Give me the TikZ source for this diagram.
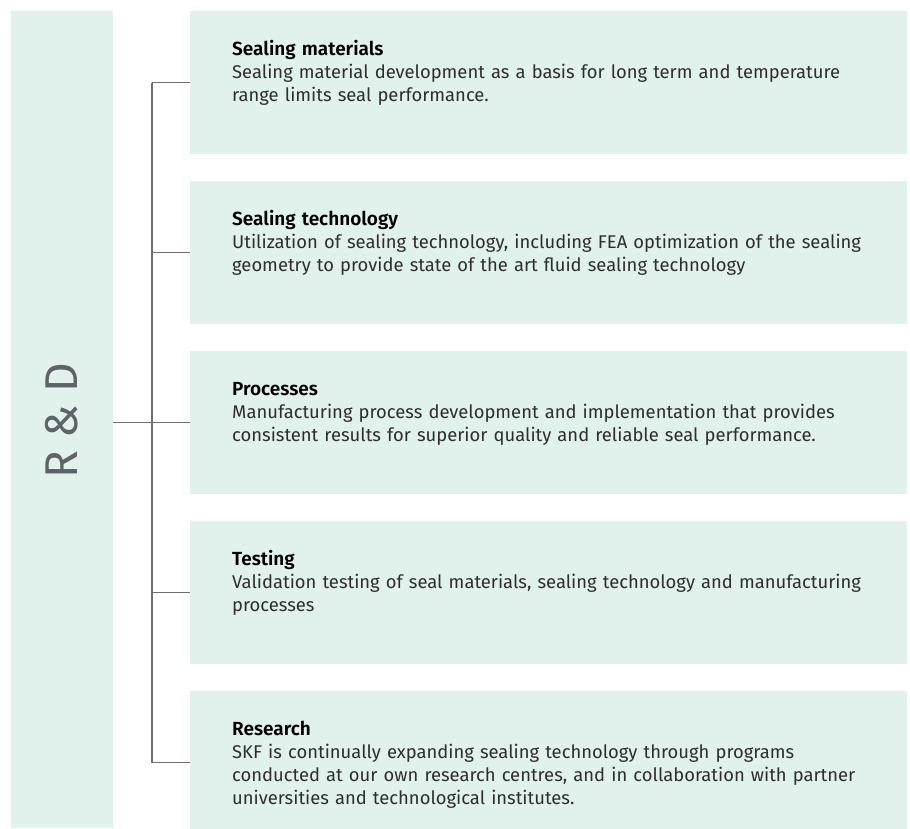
\documentclass[tikz,border=0pt]{standalone}
\usepackage{fontspec}
\setmainfont{Fira Sans}[BoldFont={Fira Sans SemiBold}]
\usetikzlibrary{calc}
\definecolor{mint}{HTML}{E1F1EC}
\definecolor{linegray}{HTML}{6E6E6E}
\definecolor{rdgray}{HTML}{5F6368}
\definecolor{bodytext}{HTML}{2E2E2E}
\tikzstyle{panel}=[fill=mint,minimum width=717pt,minimum height=143pt,inner sep=0pt,anchor=north west]
\tikzstyle{blurb}=[anchor=base west,text width=680pt,align=left,inner sep=0pt,font=\fontsize{18.4}{23}\selectfont,text=bodytext]
\tikzstyle{link}=[draw=linegray,line width=1.2pt]
\newcommand{\heading}[1]{\textcolor{black}{\fontsize{19}{23}\selectfont\textbf{#1}}}

\begin{document}
\begin{tikzpicture}[x=1pt,y=-1pt]
    \useasboundingbox (0,0) rectangle (910,828);
    \clip (0,0) rectangle (910,828);
    \node[fill=mint,minimum width=102pt,minimum height=817pt,inner sep=0pt,anchor=north west] (rd) at (11,11) {};
    \node[rotate=90,text=rdgray,font=\fontsize{46}{46}\selectfont] (rdlabel) at (62,421) {R \& D};

    \node[panel] (p1) at (190,11)  {};
    \node[panel] (p2) at (190,181) {};
    \node[panel] (p3) at (190,351) {};
    \node[panel] (p4) at (190,521) {};
    \node[panel] (p5) at (190,691) {};

    \node[blurb] (t1) at ($(p1.north west)+(42,44)$) {\heading{Sealing materials}\\
        Sealing material development as a basis for long term and temperature\\
        range limits seal performance.};
    \node[blurb] (t2) at ($(p2.north west)+(42,44)$) {\heading{Sealing technology}\\
        Utilization of sealing technology, including FEA optimization of the sealing\\
        geometry to provide state of the art fluid sealing technology};
    \node[blurb] (t3) at ($(p3.north west)+(42,44)$) {\heading{Processes}\\
        Manufacturing process development and implementation that provides\\
        consistent results for superior quality and reliable seal performance.};
    \node[blurb] (t4) at ($(p4.north west)+(42,44)$) {\heading{Testing}\\
        Validation testing of seal materials, sealing technology and manufacturing\\
        processes};
    \node[blurb] (t5) at ($(p5.north west)+(42,44)$) {\heading{Research}\\
        SKF is continually expanding sealing technology through programs\\
        conducted at our own research centres, and in collaboration with partner\\
        universities and technological institutes.};

    \foreach \i in {1,...,5}
    \coordinate (s\i) at ($(p\i.west)+(-38,0)$);
    \draw[link] (s1) -- (s5);
    \draw[link] (rd.east |- p3.west) -- (p3.west);
    \foreach \i in {1,...,5}
    \draw[link] (s\i) -- (p\i.west);
\end{tikzpicture}
\end{document}
